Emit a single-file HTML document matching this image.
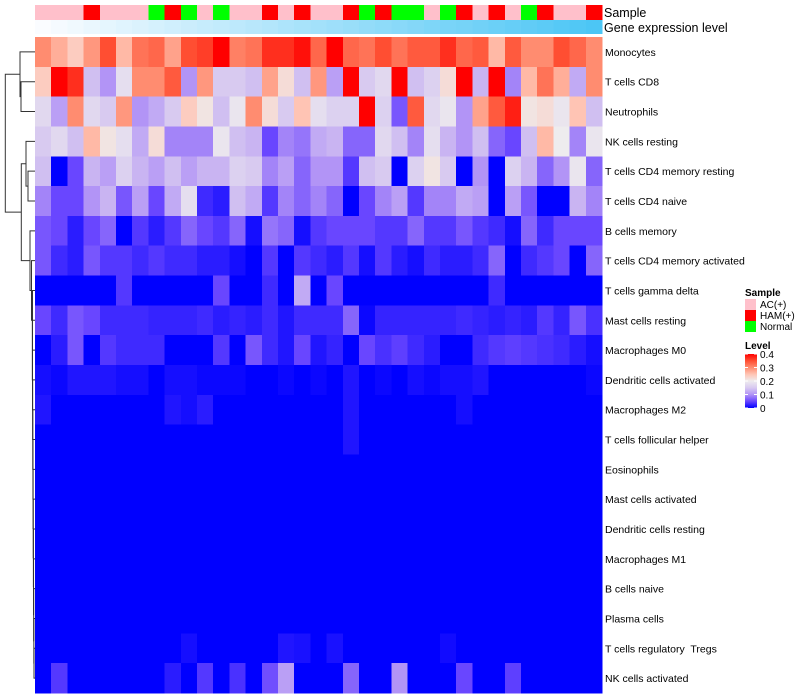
<!DOCTYPE html>
<html><head><meta charset="utf-8"><style>
body{margin:0;background:#fff;}
svg{display:block;font-family:"Liberation Sans",sans-serif;}
svg text{white-space:pre;}
</style></head><body>
<svg id="chart" width="800" height="700"></svg>
<script>
const cellTypes=["Monocytes","T cells CD8","Neutrophils","NK cells resting","T cells CD4 memory resting","T cells CD4 naive","B cells memory","T cells CD4 memory activated","T cells gamma delta","Mast cells resting","Macrophages M0","Dendritic cells activated","Macrophages M2","T cells follicular helper","Eosinophils","Mast cells activated","Dendritic cells resting","Macrophages M1","B cells naive","Plasma cells","T cells regulatory  Tregs","NK cells activated"];
const sampleGroups=["AC","AC","AC","HAM","AC","AC","AC","N","HAM","N","AC","N","AC","AC","HAM","AC","HAM","AC","AC","HAM","N","HAM","N","N","AC","N","HAM","AC","HAM","AC","N","HAM","AC","AC","HAM"];
const geneLevel=[0,0.03,0.06,0.09,0.12,0.15,0.18,0.21,0.24,0.27,0.3,0.32,0.35,0.38,0.41,0.44,0.47,0.5,0.53,0.56,0.59,0.62,0.65,0.68,0.71,0.74,0.76,0.79,0.82,0.85,0.88,0.91,0.94,0.97,1];
const rowMonocytes=[0.3,0.27,0.24,0.29,0.35,0.26,0.32,0.33,0.28,0.35,0.36,0.4,0.31,0.32,0.37,0.37,0.39,0.33,0.4,0.33,0.32,0.35,0.32,0.34,0.34,0.37,0.33,0.34,0.26,0.34,0.3,0.3,0.35,0.33,0.3];
const rowCD8=[0.24,0.4,0.37,0.14,0.1,0.18,0.3,0.3,0.34,0.1,0.29,0.15,0.15,0.14,0.28,0.22,0.14,0.29,0.11,0.4,0.15,0.17,0.4,0.14,0.16,0.22,0.4,0.13,0.4,0.09,0.26,0.32,0.27,0.12,0.3];
const rowNeutro=[0.17,0.11,0.3,0.17,0.15,0.29,0.1,0.12,0.15,0.24,0.21,0.14,0.19,0.3,0.22,0.15,0.25,0.18,0.16,0.16,0.4,0.16,0.06,0.34,0.17,0.19,0.1,0.28,0.34,0.38,0.21,0.22,0.19,0.25,0.14];
const rowNKrest=[0.15,0.17,0.14,0.26,0.21,0.18,0.12,0.22,0.09,0.09,0.09,0.19,0.14,0.13,0.05,0.09,0.08,0.12,0.13,0.07,0.07,0.17,0.14,0.09,0.18,0.13,0.1,0.14,0.07,0.05,0.14,0.26,0.2,0.09,0.19];
const rowCD4memRest=[0.14,0,0.05,0.13,0.11,0.16,0.13,0.11,0.14,0.11,0.13,0.13,0.16,0.15,0.09,0.11,0.07,0.1,0.1,0.04,0.14,0.15,0,0.16,0.21,0.15,0,0.1,0,0.16,0.13,0.07,0.1,0.19,0.07];
const rowCD4naive=[0.09,0.05,0.05,0.1,0.13,0.06,0.11,0.05,0.12,0.18,0.03,0.02,0.14,0.12,0.04,0.09,0.07,0.09,0.07,0,0.05,0.09,0.11,0.04,0.09,0.09,0.12,0.11,0,0.11,0.06,0,0,0.13,0.09];
const rowBmem=[0.06,0.05,0.02,0.05,0.07,0,0.04,0.02,0.04,0.07,0.05,0.04,0.07,0.01,0.08,0.07,0.01,0.04,0.05,0.05,0.05,0.04,0.04,0.07,0.04,0.04,0.06,0.04,0.03,0.01,0.07,0.03,0.05,0.05,0.05];
const rowCD4memAct=[0.06,0.03,0.02,0.06,0.04,0.04,0.03,0.04,0.03,0.03,0.02,0.02,0.01,0,0.04,0,0.04,0.03,0.02,0.04,0.01,0.04,0.02,0.01,0.03,0.02,0.02,0.03,0.07,0,0.03,0.04,0.05,0,0.07];
const rowGammaDelta=[0,0,0,0,0,0.04,0,0,0,0,0,0.05,0,0,0.03,0,0.12,0,0.05,0,0,0,0,0,0,0,0,0,0.03,0,0,0,0,0,0];
const rowMastRest=[0.05,0.03,0.06,0.05,0.03,0.03,0.03,0.025,0.025,0.025,0.03,0.02,0.025,0.02,0.03,0.015,0.03,0.03,0.03,0.07,0.005,0.025,0.025,0.025,0.025,0.025,0.03,0.025,0.02,0.025,0.02,0.04,0.025,0.06,0.035];
const rowM0=[0,0.02,0.06,0,0.04,0.03,0.03,0.03,0,0,0,0.04,0,0.06,0.03,0.015,0.05,0.015,0.025,0,0.05,0.035,0.045,0.03,0.02,0,0,0.03,0.04,0.045,0.04,0.035,0.03,0.02,0.01];
const rowDCact=[0.01,0.005,0.015,0.015,0.015,0.01,0.01,0,0.01,0.01,0.005,0.005,0.005,0,0,0.005,0,0.005,0,0.015,0,0.005,0,0.01,0.005,0.01,0.01,0.015,0,0,0,0,0,0,0.005];
const rowM2=[0.015,0,0,0,0,0,0,0,0.015,0.01,0.02,0,0,0,0,0,0,0,0,0.015,0,0,0,0,0,0,0.01,0,0,0,0,0,0,0,0];
const rowTfh=[0,0,0,0,0,0,0,0,0,0,0,0,0,0,0,0,0,0,0,0.015,0,0,0,0,0,0,0,0,0,0,0,0,0,0,0];
const rowEos=[0,0,0,0,0,0,0,0,0,0,0,0,0,0,0,0,0,0,0,0,0,0,0,0,0,0,0,0,0,0,0,0,0,0,0];
const rowMastAct=[0,0,0,0,0,0,0,0,0,0,0,0,0,0,0,0,0,0,0,0,0,0,0,0,0,0,0,0,0,0,0,0,0,0,0];
const rowDCrest=[0,0,0,0,0,0,0,0,0,0,0,0,0,0,0,0,0,0,0,0,0,0,0,0,0,0,0,0,0,0,0,0,0,0,0];
const rowM1=[0,0,0,0,0,0,0,0,0,0,0,0,0,0,0,0,0,0,0,0,0,0,0,0,0,0,0,0,0,0,0,0,0,0,0];
const rowBnaive=[0,0,0,0,0,0,0,0,0,0,0,0,0,0,0,0,0,0,0,0,0,0,0,0,0,0,0,0,0,0,0,0,0,0,0];
const rowPlasma=[0,0,0,0,0,0,0,0,0,0,0,0,0,0,0,0,0,0,0,0,0,0,0,0,0,0,0,0,0,0,0,0,0,0,0];
const rowTregs=[0,0,0,0,0,0,0,0,0,0.01,0,0,0,0,0,0.015,0.012,0,0.012,0,0,0,0,0,0,0.008,0,0,0,0,0,0,0,0,0];
const rowNKact=[0,0.04,0,0,0,0,0,0,0.02,0,0.04,0,0.035,0,0.055,0.11,0,0,0,0.07,0,0,0.1,0,0,0,0.05,0,0,0.045,0,0,0,0,0];
const matrix=[rowMonocytes,rowCD8,rowNeutro,rowNKrest,rowCD4memRest,rowCD4naive,rowBmem,rowCD4memAct,rowGammaDelta,rowMastRest,rowM0,rowDCact,rowM2,rowTfh,rowEos,rowMastAct,rowDCrest,rowM1,rowBnaive,rowPlasma,rowTregs,rowNKact];
const legendTicks=["0.4","0.3","0.2","0.1","0"];

const NS="http://www.w3.org/2000/svg";
const svg=document.getElementById("chart");
function mk(tag,attrs,parent){const e=document.createElementNS(NS,tag);for(const k in attrs)e.setAttribute(k,attrs[k]);(parent||svg).appendChild(e);return e;}
const X0=35,X1=602,Y0=37,Y1=693;
const nCol=sampleGroups.length,nRow=cellTypes.length;
const cw=(X1-X0)/nCol,rh=(Y1-Y0)/nRow;
const xPos=i=>X0+i*cw;
const yPos=r=>Y0+r*rh;
const stops=[[0,[0,0,255]],[0.05,[105,70,255]],[0.1,[178,148,246]],[0.15,[216,202,240]],[0.2,[238,236,238]],[0.25,[255,196,180]],[0.3,[255,140,112]],[0.35,[255,78,50]],[0.4,[255,0,0]]];
function col(v){v=Math.max(0,Math.min(0.4,v));for(let i=1;i<stops.length;i++){if(v<=stops[i][0]){const a=stops[i-1],b=stops[i];const t=(v-a[0])/(b[0]-a[0]);const c=a[1].map((x,j)=>Math.round(x+(b[1][j]-x)*t));return `rgb(${c})`;}}return "rgb(255,0,0)";}
const groupColor={AC:"#FFC0CB",HAM:"#FF0000",N:"#00FF00"};

const gSample=mk("g",{});


sampleGroups.forEach((g,i)=>{const r=mk("rect",{x:xPos(i),y:5,width:cw+0.6,height:15,fill:groupColor[g],"shape-rendering":"crispEdges"},gSample);

});
const gGene=mk("g",{});


geneLevel.forEach((v,i)=>{const c=[Math.round(250-(250-76)*v),Math.round(252-(252-198)*v),Math.round(255-(255-245)*v)];const r=mk("rect",{x:xPos(i),y:20,width:cw+0.6,height:14,fill:`rgb(${c})`,"shape-rendering":"crispEdges"},gGene);

});

const gHeat=mk("g",{});


matrix.forEach((row,r)=>row.forEach((v,i)=>{const c=mk("rect",{x:xPos(i),y:yPos(r),width:cw+0.6,height:rh+0.6,fill:col(v),"shape-rendering":"crispEdges"},gHeat);

}));

cellTypes.forEach((n,r)=>{const t=mk("text",{x:605,y:yPos(r)+rh/2+4,"font-size":"10.5",fill:"#000"});t.textContent=n;

});
const ts=mk("text",{x:604,y:17,"font-size":"12.5"});ts.textContent="Sample";


const tg=mk("text",{x:604,y:32,"font-size":"12.5"});tg.textContent="Gene expression level";



const gD=mk("g",{stroke:"#333","stroke-width":"1",fill:"none"});


const cy=r=>yPos(r)+rh/2;
function link(y1,x1,y2,x2,xn){mk("path",{d:`M${x1},${y1}H${xn}V${y2}H${x2}`},gD);return (y1+y2)/2;}
const A=link(cy(1),35,cy(2),35,21);
const B=link(cy(0),35,A,21,20);
const C=link(cy(4),35,cy(5),35,28);
const D=link(cy(3),35,C,28,26);
let chain=cy(21),cx=35;
for(let r=20;r>=9;r--){const xn=34-(20-r)*0.15;chain=link(cy(r),35,chain,cx,xn);cx=xn;}
const H=link(cy(8),35,chain,cx,32.5);
const G=link(cy(7),35,H,32.5,31.5);
const F=link(cy(6),35,G,31.5,30);
const E=link(D,26,F,30,21.3);
link(B,20,E,21.3,5.3);

const lg=mk("g",{});


const lt=mk("text",{x:745,y:296,"font-size":"10","font-weight":"bold"},lg);lt.textContent="Sample";
const items=[["AC(+)","#FFC0CB"],["HAM(+)","#FF0000"],["Normal","#00FF00"]];
items.forEach((it,k)=>{mk("rect",{x:745,y:299+k*11,width:11,height:11,fill:it[1]},lg);
const t=mk("text",{x:760,y:308+k*11,"font-size":"10"},lg);t.textContent=it[0];

});
const lv=mk("text",{x:745,y:349,"font-size":"10","font-weight":"bold"},lg);lv.textContent="Level";
const defs=mk("defs",{});const gr=mk("linearGradient",{id:"lvl",x1:0,y1:1,x2:0,y2:0},defs);
stops.forEach(s=>mk("stop",{offset:s[0]/0.4,"stop-color":col(s[0])},gr));
const cb=mk("rect",{x:745,y:354,width:12,height:54,fill:"url(#lvl)"},lg);


legendTicks.forEach((l,k)=>{const y=354+k*13.5;mk("line",{x1:745,x2:748,y1:y,y2:y,stroke:"#fff"},lg);mk("line",{x1:754,x2:757,y1:y,y2:y,stroke:"#fff"},lg);
const t=mk("text",{x:760,y:y+4,"font-size":"10"},lg);t.textContent=l;

});
</script>
</body></html>
